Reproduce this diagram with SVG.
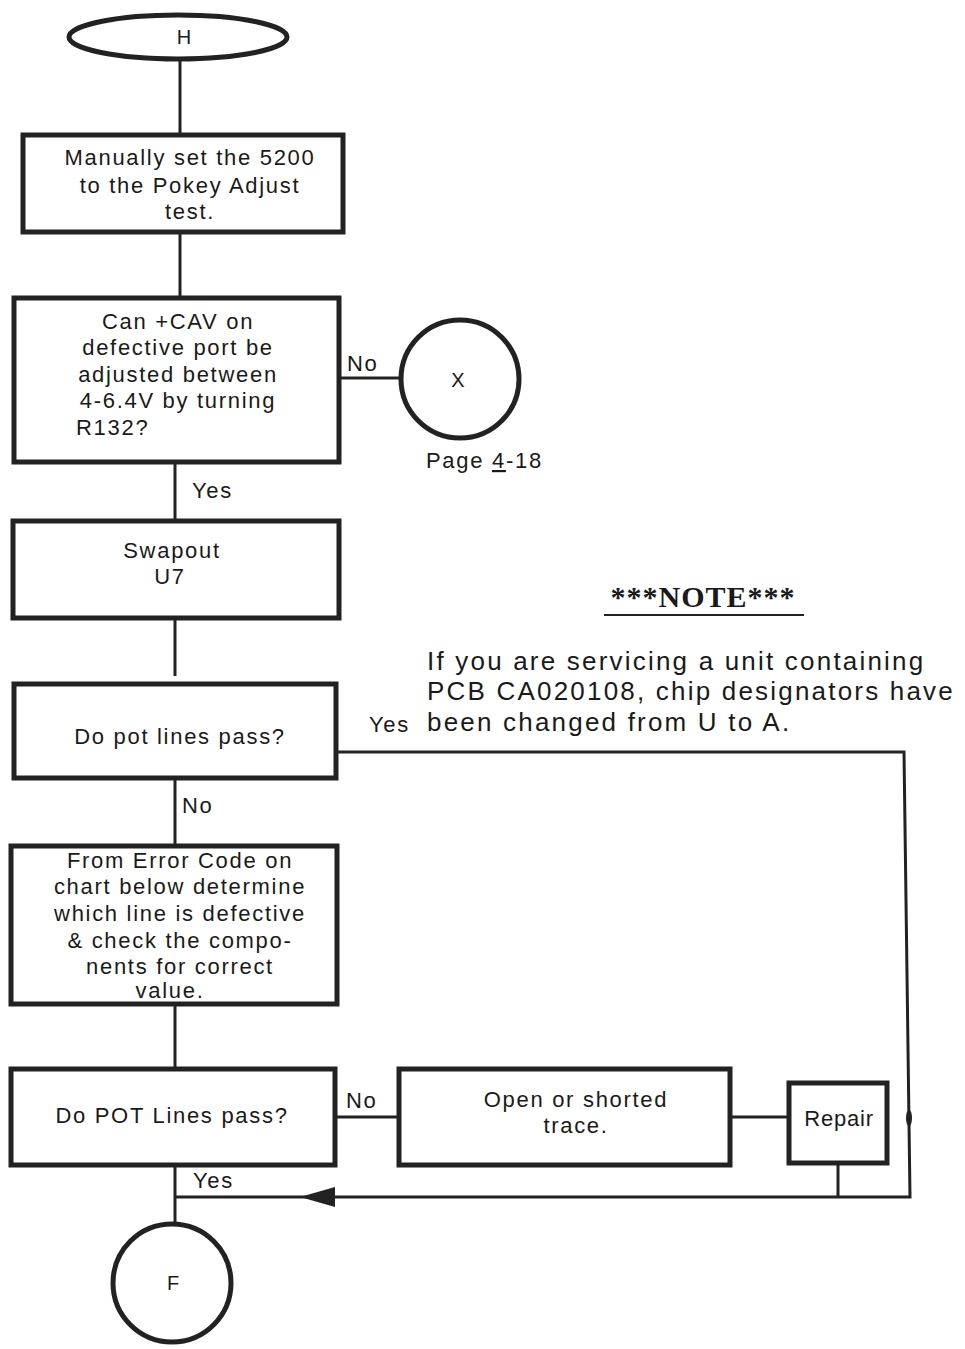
<svg xmlns="http://www.w3.org/2000/svg" width="965" height="1349" viewBox="0 0 965 1349">
<style>
.box{fill:#fff;stroke:#222;stroke-width:5}
.ln{fill:none;stroke:#222;stroke-width:3}
.t{font-family:"Liberation Sans",Arial,sans-serif;font-size:22px;fill:#1a1a1a;letter-spacing:1.7px}
.c{text-anchor:middle}
.n{font-family:"Liberation Sans",Arial,sans-serif;font-size:26px;fill:#1a1a1a;letter-spacing:2.2px}
</style>
<rect width="965" height="1349" fill="#fff"/>
<g id="connectors">
<line class="ln" x1="180" y1="60" x2="180" y2="135"/>
<line class="ln" x1="180" y1="232" x2="180" y2="297"/>
<line class="ln" x1="340" y1="378" x2="400" y2="378"/>
<line class="ln" x1="175" y1="462" x2="175" y2="520"/>
<line class="ln" x1="175" y1="618" x2="175" y2="676"/>
<polyline class="ln" points="337,752 904,752 910,1197 175,1197"/>
<path d="M335,1187 L300,1197 L335,1207 Z" fill="#222"/>
<line class="ln" x1="175" y1="778" x2="175" y2="845"/>
<line class="ln" x1="175" y1="1005" x2="175" y2="1068"/>
<line class="ln" x1="336" y1="1117" x2="398" y2="1117"/>
<line class="ln" x1="730" y1="1117" x2="790" y2="1117"/>
<line class="ln" x1="838" y1="1163" x2="838" y2="1197"/>
<line class="ln" x1="175" y1="1165" x2="175" y2="1224"/>
<ellipse cx="909" cy="1118" rx="3" ry="8" fill="#222"/>
<text class="t" x="347" y="371">No</text>
<text class="t" x="192" y="498">Yes</text>
<text class="t" x="369" y="732">Yes</text>
<text class="t" x="182" y="813">No</text>
<text class="t" x="346" y="1108">No</text>
<text class="t" x="193" y="1188">Yes</text>
</g>
<g id="node-H">
<ellipse cx="178" cy="37" rx="109" ry="22" fill="#fff" stroke="#222" stroke-width="5"/>
<text class="t c" x="184" y="44" style="font-size:20px;letter-spacing:0">H</text>
</g>
<g id="node-manual">
<rect class="box" x="23" y="135" width="320" height="97"/>
<text class="t c" x="190" y="165">Manually set the 5200</text>
<text class="t c" x="190" y="193">to the Pokey Adjust</text>
<text class="t c" x="190" y="219">test.</text>
</g>
<g id="node-cav">
<rect class="box" x="14" y="298" width="325" height="164"/>
<text class="t c" x="178" y="329">Can +CAV on</text>
<text class="t c" x="178" y="355">defective port be</text>
<text class="t c" x="178" y="382">adjusted between</text>
<text class="t c" x="178" y="408">4-6.4V by turning</text>
<text class="t" x="76" y="435">R132?</text>
</g>
<g id="node-X">
<circle cx="460" cy="379" r="59" fill="#fff" stroke="#222" stroke-width="5"/>
<text class="t c" x="458" y="387" style="font-size:20px;letter-spacing:0">X</text>
<text class="t" x="426" y="468">Page <tspan text-decoration="underline">4</tspan>-18</text>
</g>
<g id="node-swap">
<rect class="box" x="13" y="521" width="326" height="97"/>
<text class="t c" x="172" y="558">Swapout</text>
<text class="t c" x="170" y="584">U7</text>
</g>
<g id="node-pot1">
<rect class="box" x="14" y="684" width="322" height="94"/>
<text class="t c" x="180" y="744">Do pot lines pass?</text>
</g>
<g id="node-error">
<rect class="box" x="11" y="846" width="326" height="158"/>
<text class="t c" x="180" y="868">From Error Code on</text>
<text class="t c" x="180" y="894">chart below determine</text>
<text class="t c" x="180" y="921">which line is defective</text>
<text class="t c" x="180" y="948">&amp; check the compo-</text>
<text class="t c" x="180" y="974">nents for correct</text>
<text class="t c" x="170" y="998">value.</text>
</g>
<g id="node-pot2">
<rect class="box" x="11" y="1069" width="324" height="96"/>
<text class="t c" x="172" y="1123">Do POT Lines pass?</text>
</g>
<g id="node-open">
<rect class="box" x="399" y="1069" width="331" height="96"/>
<text class="t c" x="576" y="1107">Open or shorted</text>
<text class="t c" x="576" y="1133">trace.</text>
</g>
<g id="node-repair">
<rect class="box" x="789" y="1083" width="98" height="80"/>
<text class="t c" x="839" y="1126" style="letter-spacing:0.8px">Repair</text>
</g>
<g id="node-F">
<circle cx="172" cy="1283" r="59" fill="#fff" stroke="#222" stroke-width="5"/>
<text class="t c" x="173" y="1290" style="font-size:20px;letter-spacing:0">F</text>
</g>
<g id="note">
<text x="703" y="607" text-anchor="middle" style="font-family:'Liberation Serif',serif;font-size:30px;font-weight:bold;fill:#1a1a1a;letter-spacing:1px">***NOTE***</text>
<line x1="604" y1="615" x2="804" y2="615" stroke="#222" stroke-width="2"/>
<text class="n" x="427" y="670">If you are servicing a unit containing</text>
<text class="n" x="427" y="700">PCB CA020108, chip designators have</text>
<text class="n" x="427" y="731">been changed from U to A.</text>
</g>
</svg>
